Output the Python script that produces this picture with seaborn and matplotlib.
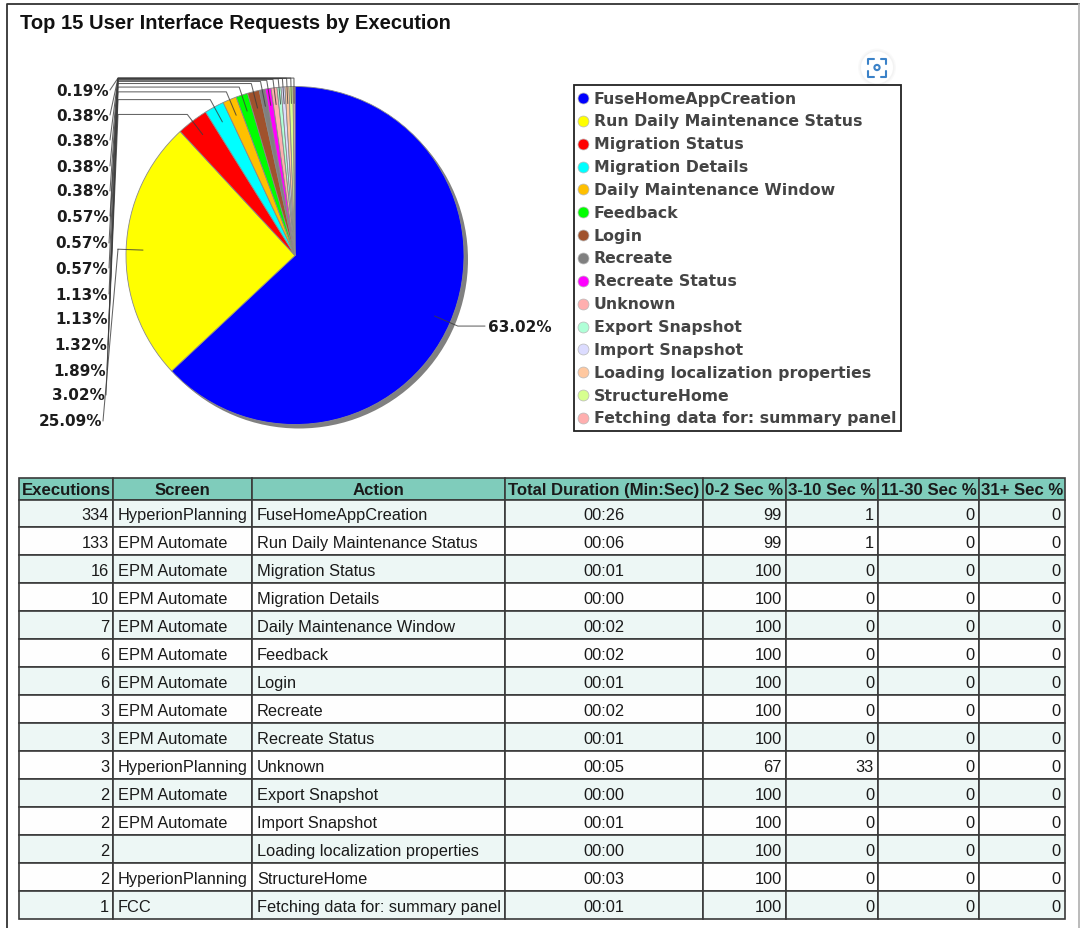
import numpy as np
import pandas as pd
import seaborn as sns
import matplotlib
matplotlib.use("Agg")
import matplotlib.pyplot as plt
from matplotlib.patches import Circle, Rectangle

actions = ["FuseHomeAppCreation", "Run Daily Maintenance Status", "Migration Status", "Migration Details",
           "Daily Maintenance Window", "Feedback", "Login", "Recreate", "Recreate Status", "Unknown",
           "Export Snapshot", "Import Snapshot", "Loading localization properties", "StructureHome",
           "Fetching data for: summary panel"]
executions = [334, 133, 16, 10, 7, 6, 6, 3, 3, 3, 2, 2, 2, 2, 1]
screens = ["HyperionPlanning", "EPM Automate", "EPM Automate", "EPM Automate", "EPM Automate", "EPM Automate",
           "EPM Automate", "EPM Automate", "EPM Automate", "HyperionPlanning", "EPM Automate", "EPM Automate",
           "", "HyperionPlanning", "FCC"]
durations = ["00:26", "00:06", "00:01", "00:00", "00:02", "00:02", "00:01", "00:02", "00:01", "00:05",
             "00:00", "00:01", "00:00", "00:03", "00:01"]
pct_0_2 = [99, 99, 100, 100, 100, 100, 100, 100, 100, 67, 100, 100, 100, 100, 100]
pct_3_10 = [1, 1, 0, 0, 0, 0, 0, 0, 0, 33, 0, 0, 0, 0, 0]
pct_11_30 = [0] * 15
pct_31 = [0] * 15
headers = ["Executions", "Screen", "Action", "Total Duration (Min:Sec)", "0-2 Sec %", "3-10 Sec %",
           "11-30 Sec %", "31+ Sec %"]
pie_labels = ["63.02%", "25.09%", "3.02%", "1.89%", "1.32%", "1.13%", "1.13%", "0.57%", "0.57%", "0.57%",
              "0.38%", "0.38%", "0.38%", "0.38%", "0.19%"]
colors = ["#0000FF", "#FFFF00", "#FF0000", "#00FFFF", "#FFC000", "#00FF00", "#A0522D", "#808080", "#FF00FF",
          "#FFAFAF", "#AFFFD7", "#DCDCFF", "#FFC8A0", "#D7FF8F", "#FFAFAF"]

sns.set_theme(style="white")
W, H = 1080, 929
TEXT = ["Liberation Sans", "DejaVu Sans"]
fig = plt.figure(figsize=(W / 100, H / 100), dpi=100, facecolor="white")
ax = fig.add_axes([0, 0, 1, 1])


def Y(py):
    return H - py


# pie
CX, CY, R = 295, Y(256.5), 169
ax.add_patch(Circle((CX + 4, CY - 4), R, fc="#808080", ec="none", zorder=1))
wedges, _ = ax.pie(executions, colors=colors, startangle=90, counterclock=False, center=(CX, CY), radius=R,
                   frame=True, wedgeprops=dict(edgecolor="#8a8a8a", linewidth=0.6, zorder=2))
ax.set_xlim(0, W)
ax.set_ylim(0, H)
ax.set_aspect("auto")
ax.set_xticks([])
ax.set_yticks([])
for s in ax.spines.values():
    s.set_visible(False)

# page frame and title
ax.plot([7, 7, 1080], [0, Y(4.5), Y(4.5)], color="#333333", lw=1.3, zorder=1)
ax.plot([1079, 1079], [0, Y(4.5)], color="#b5b5b5", lw=1.3, zorder=1)
ax.text(20, Y(23), "Top 15 User Interface Requests by Execution", family=TEXT, fontsize=14.5, weight="bold",
        color="#111111", va="center", ha="left")

# pie leaders and labels
LABEL_FONT = dict(family="DejaVu Sans", fontsize=11.0, weight="bold", color="#1c1c1c", va="center")
label_y = [None, 422, 396, 371, 346, 320, 295, 269, 244, 217, 192, 167, 141, 116, 91]
label_x = [None, 102, 105, 106, 107, 108, 108, 108, 108, 109, 109, 109, 109, 109, 109]
cum = np.cumsum(executions)
mids = (cum - np.array(executions) / 2) / cum[-1]
for i, m in enumerate(mids):
    a = np.deg2rad(90 - 360 * m)
    ux, uy = np.cos(a), np.sin(a)
    inner = (CX + 0.9 * R * ux, CY + 0.9 * R * uy)
    elbow = (CX + 1.05 * R * ux, CY + 1.05 * R * uy)
    if i == 0:
        xs = [inner[0], elbow[0], 485]
        ys = [inner[1], elbow[1], elbow[1]]
        ax.text(488, elbow[1], pie_labels[i], ha="left", **LABEL_FONT)
    else:
        xs = [inner[0], elbow[0], 118, label_x[i] + 1]
        ys = [inner[1], elbow[1], elbow[1], Y(label_y[i])]
        ax.text(label_x[i], Y(label_y[i]), pie_labels[i], ha="right", **LABEL_FONT)
    ax.plot(xs, ys, color="#3c3c3c", lw=0.75, zorder=3, solid_joinstyle="miter", alpha=0.8)

# legend, markers drawn with seaborn
ax.add_patch(Rectangle((574, Y(432)), 326.5, 346, fc="white", ec="#222222", lw=1.3, zorder=3))
legend_y = [Y(99 + 22.85 * i) for i in range(len(actions))]
legend_df = pd.DataFrame({"x": [583] * len(actions), "y": legend_y, "action": actions})
for i, a_name in enumerate(actions):
    sns.scatterplot(data=legend_df.iloc[[i]], x="x", y="y", color=colors[i], s=62, ax=ax, legend=False,
                    edgecolor="#b8b8b8", linewidth=0.5, zorder=4)
    ax.text(593.5, legend_y[i], a_name, family="DejaVu Sans", fontsize=11.35, weight="bold", color="#444444",
            va="center", ha="left", zorder=4)
ax.set_xlabel("")
ax.set_ylabel("")
ax.set_xlim(0, W)
ax.set_ylim(0, H)

# lens button
LY = Y(68.5)
for r, al in [(19, 0.05), (17.5, 0.06), (16, 1)]:
    ax.add_patch(Circle((877, LY), r, fc="white" if al == 1 else "#999999", alpha=al, ec="none", zorder=2))
ICON = "#3b82c8"
for sx in (-1, 1):
    for sy in (-1, 1):
        ax.plot([877 + sx * 3.5, 877 + sx * 9, 877 + sx * 9], [LY + sy * 9, LY + sy * 9, LY + sy * 3.5],
                color=ICON, lw=1.5, zorder=3, solid_capstyle="round")
ax.add_patch(Circle((877, LY), 2.6, fc="white", ec=ICON, lw=1.5, zorder=3))

# table
col_edges = np.array([19, 113, 252, 505, 703, 786, 878, 979, 1065], dtype=float)
HEAD_H, ROW_H, T_TOP = 22.0, 27.95, 478.5
rows = list(zip(executions, screens, actions, durations, pct_0_2, pct_3_10, pct_11_30, pct_31))
col_align = ["right", "left", "left", "center", "right", "right", "right", "right"]
T_H = HEAD_H + ROW_H * len(rows)
tbl = ax.table(cellText=[[str(v) for v in r] for r in rows], colLabels=headers,
               bbox=[col_edges[0] / W, 1 - (T_TOP + T_H) / H, (col_edges[-1] - col_edges[0]) / W, T_H / H],
               colWidths=list(np.diff(col_edges) / W), cellLoc="left")
tbl.auto_set_font_size(False)
for (r, c), cell in tbl.get_celld().items():
    w = col_edges[c + 1] - col_edges[c]
    cell.set_height(HEAD_H if r == 0 else ROW_H)
    cell.set_linewidth(1.2)
    cell.set_edgecolor("#3a3a3a")
    cell.PAD = (5.0 if col_align[c] == "left" else 4.0) / w
    txt = cell.get_text()
    txt.set_family(TEXT)
    txt.set_color("#1a1a1a")
    txt.set_fontsize(11.8)
    txt.set_va("center_baseline")
    if r == 0:
        cell.set_facecolor("#7FCCBB")
        cell.PAD = 1.0 / w
        txt.set_weight("bold")
        txt.set_fontsize(12.05)
        cell._loc = "center"
        txt.set_ha("center")
    else:
        cell.set_facecolor("#EDF7F5" if r % 2 == 1 else "#FEFEFE")
        cell._loc = col_align[c]
        txt.set_ha(col_align[c])

fig.savefig("out.png", dpi=100, facecolor="white")
